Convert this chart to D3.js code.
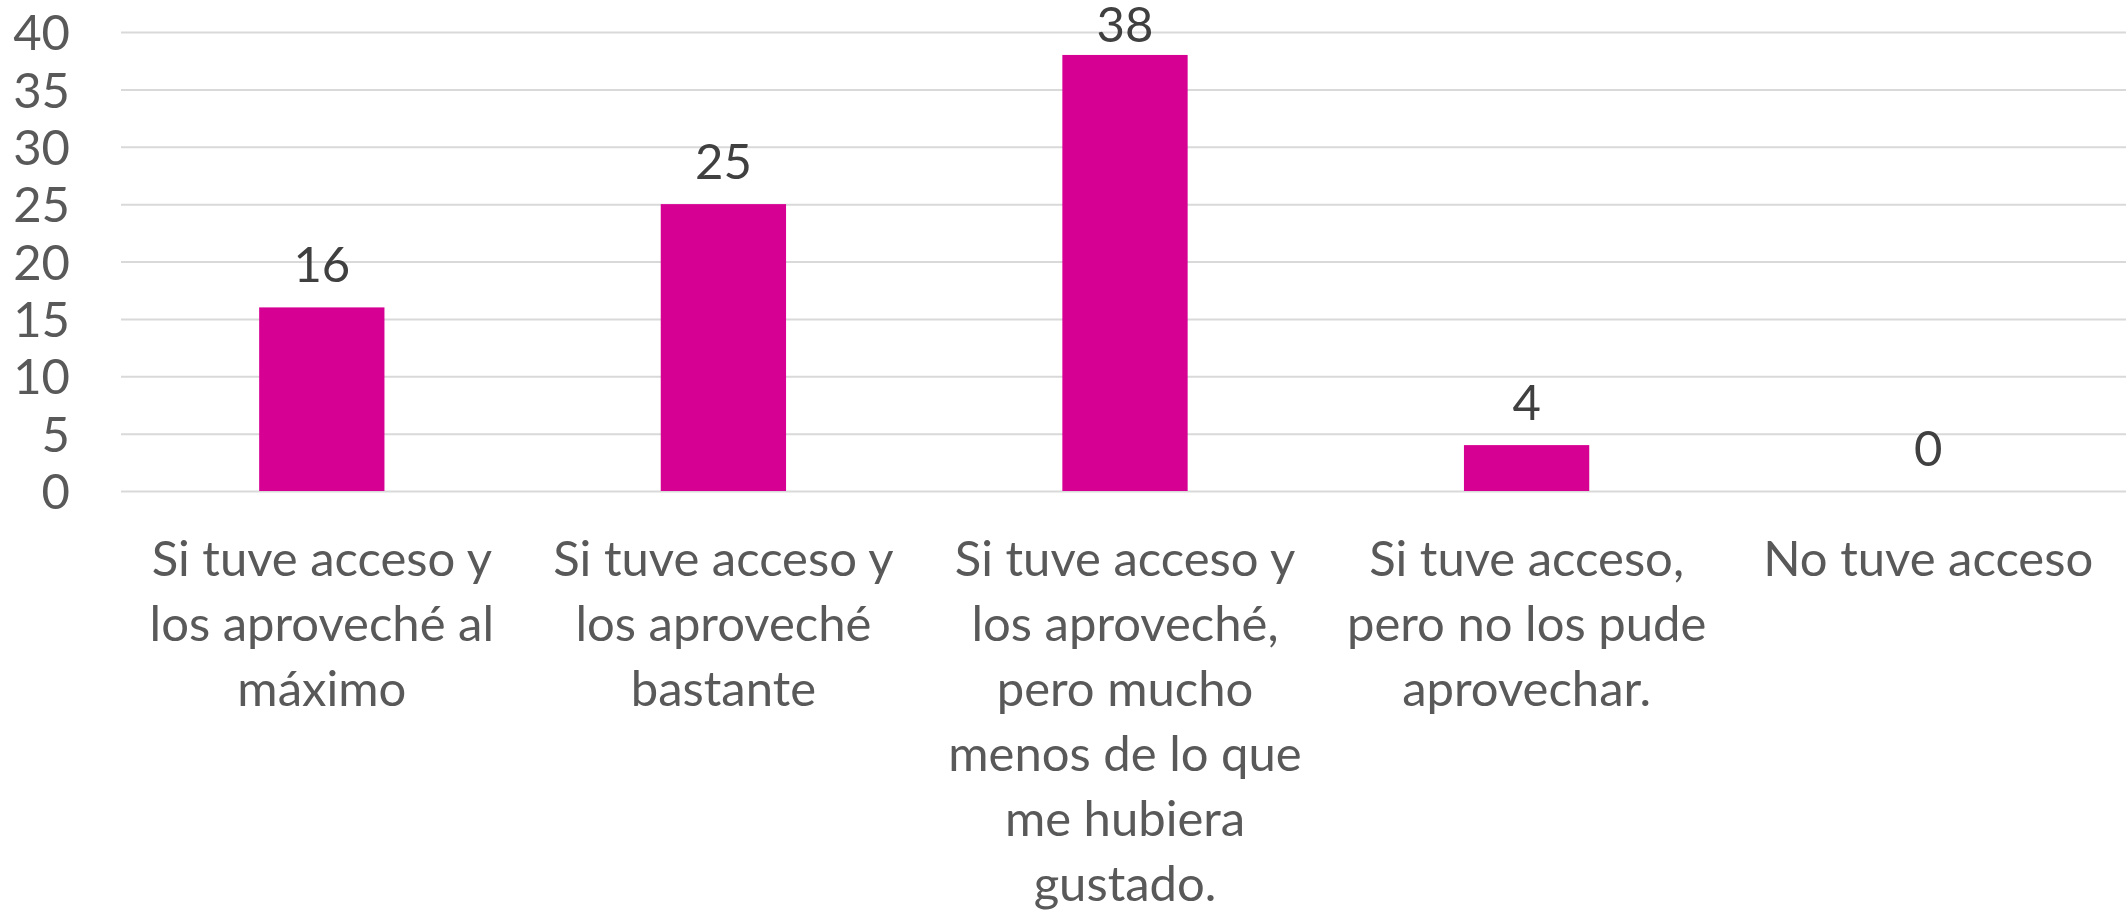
<!DOCTYPE html>
<html>
<head>
<meta charset="utf-8">
<script src="https://cdn.jsdelivr.net/npm/d3@7"></script>
<style>
    body { margin: 0; background: #fff; }
    svg text { font-family: Lato, "Open Sans", sans-serif; }
    .grid line { stroke: #d9d9d9; stroke-width: 2px; }
    .grid path { display: none; }
</style>
</head>
<body>
<svg id="chart" width="2126" height="911"></svg>
<script>
// categories (already split into lines as in the original)
var categories = [
    ["Si tuve acceso y", "los aproveché al", "máximo"],
    ["Si tuve acceso y", "los aproveché", "bastante"],
    ["Si tuve acceso y", "los aproveché,", "pero mucho", "menos de lo que", "me hubiera", "gustado."],
    ["Si tuve acceso,", "pero no los pude", "aprovechar."],
    ["No tuve acceso"]
];
var values = [16, 25, 38, 4, 0];
var yTicks = [0, 5, 10, 15, 20, 25, 30, 35, 40];

var svg = d3.select("#chart");
var margin = { top: 32, bottom: 420, right: -3, left: 121 };

var width = +svg.attr("width") - margin.left - margin.right,
    height = +svg.attr("height") - margin.top - margin.bottom;

var svgInner = svg
    .append("g")
    .attr("transform", "translate(" + margin.left + "," + margin.top + ")");

var keys = categories.map(function(d, i) { return i; });

// X scale: band per category
var xScale = d3
    .scaleBand()
    .domain(keys)
    .range([0, width])
    .paddingInner(0.688)
    .paddingOuter(0.344);

// Y scale
var yScale = d3
    .scaleLinear()
    .domain([0, 40])
    .range([height, 0]);

// gridlines + y tick labels
var yAxis = svgInner
    .append("g")
    .attr("class", "grid")
    .call(
        d3.axisLeft(yScale)
            .tickValues(yTicks)
            .tickSize(-width)
            .tickPadding(51)
    );

yAxis.selectAll("text")
    .attr("fill", "#595959")
    .style("font-size", "49px")
    .attr("dy", "0.36em");

// bars
svgInner
    .append("g")
    .selectAll("rect")
    .data(values)
    .enter()
    .append("rect")
    .attr("x", function(d, i) { return xScale(i); })
    .attr("width", xScale.bandwidth())
    .attr("y", function(d) { return yScale(d); })
    .attr("height", function(d) { return height - yScale(d); })
    .attr("fill", "#d60093");

// value labels (kept inside the chart area like Excel does)
var labelTop = 42 - margin.top;
svgInner
    .append("g")
    .selectAll("text")
    .data(values)
    .enter()
    .append("text")
    .attr("x", function(d, i) { return xScale(i) + xScale.bandwidth() / 2; })
    .attr("y", function(d) { return Math.max(yScale(d) - 25, labelTop); })
    .attr("text-anchor", "middle")
    .attr("fill", "#404040")
    .style("font-size", "49px")
    .text(function(d) { return d; });

// category labels
var catLabels = svgInner
    .append("g")
    .selectAll("text")
    .data(categories)
    .enter()
    .append("text")
    .attr("text-anchor", "middle")
    .attr("fill", "#595959")
    .style("font-size", "49px")
    .attr("transform", function(d, i) {
        return "translate(" + (xScale(i) + xScale.bandwidth() / 2) + "," + (height + 85) + ")";
    });

catLabels
    .selectAll("tspan")
    .data(function(d) { return d; })
    .enter()
    .append("tspan")
    .attr("x", 0)
    .attr("y", function(d, i) { return i * 65; })
    .text(function(d) { return d; });
</script>
</body>
</html>
